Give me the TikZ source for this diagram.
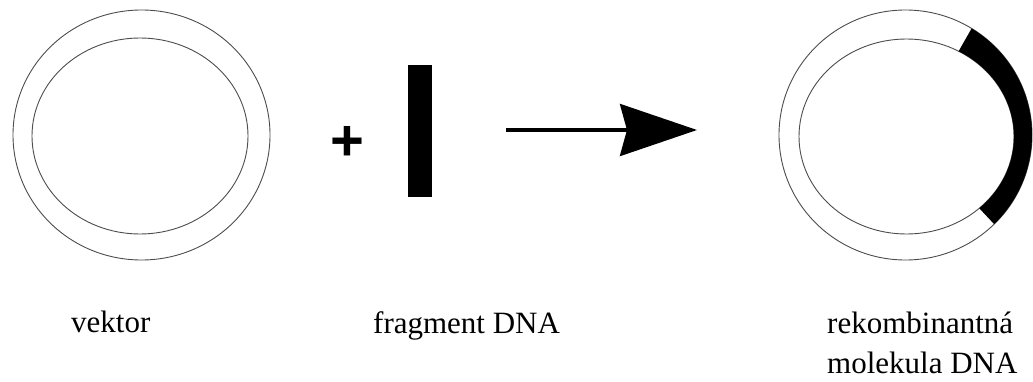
\documentclass[tikz,border=0pt]{standalone}
\usepackage{fontspec}
\setmainfont{Liberation Serif}
\newfontfamily\plusfont{Liberation Sans}
\usetikzlibrary{arrows.meta,positioning,calc}

\begin{document}
\begin{tikzpicture}[x=1pt,y=1pt,>={Stealth[length=77pt,width=52pt,inset=7pt]},
    ring/.style={draw=black!70,line width=0.9pt},
    lbl/.style={anchor=base west,inner sep=0pt,align=left,font=\fontsize{31}{40}\selectfont}]
    \useasboundingbox (0,0) rectangle (1033,381);

    % vektor
    \draw[ring] (141.5,246) ellipse [x radius=128.5,y radius=125];
    \draw[ring] (140,245) ellipse [x radius=108,y radius=98];

    \node[font=\plusfont\bfseries\fontsize{58}{58}\selectfont,inner sep=0pt] (plus) at (347,237.5) {+};
    \node[fill=black,minimum width=24pt,minimum height=132pt,inner sep=0pt] (frag) at (420,250) {};

    \coordinate (a0) at (506,251);
    \coordinate (a1) at (697,251);
    \draw[->,line width=3.5pt] (a0) -- (a1);

    % rekombinantna molekula
    \draw[ring] (905.5,246) ellipse [x radius=126.5,y radius=125];
    \draw[ring] (906.5,244.5) ellipse [x radius=107.5,y radius=97.5];
    \fill ($(905.5,246)+(58.5:126.5 and 125)$)
      arc [start angle=58.5,end angle=-45.5,x radius=126.5,y radius=125]
      -- ($(906.5,244.5)+(-47.4:107.5 and 97.5)$)
      arc [start angle=-47.4,end angle=61,x radius=107.5,y radius=97.5]
      -- cycle;

    \node[lbl] (lvec) at (71,49) {vektor};
    \node[lbl] (lfrag) at (373,48) {fragment DNA};
    \node[lbl] (lrec) at (827,8) {rekombinantná\\molekula DNA};
\end{tikzpicture}
\end{document}
